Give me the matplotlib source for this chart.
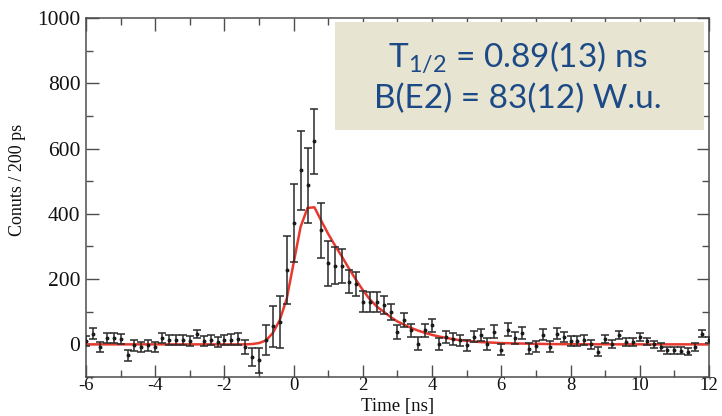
import matplotlib
matplotlib.use("Agg")
import matplotlib.pyplot as plt
from matplotlib.ticker import MultipleLocator
from matplotlib.patches import Rectangle

plt.rcParams["axes.unicode_minus"] = False

# ---------------- data ----------------
time_ns = [-6.0, -5.8, -5.6, -5.4, -5.2, -5.0, -4.8, -4.6, -4.4, -4.2,
           -4.0, -3.8, -3.6, -3.4, -3.2, -3.0, -2.8, -2.6, -2.4, -2.2,
           -2.0, -1.8, -1.6, -1.4, -1.2, -1.0, -0.8, -0.6, -0.4, -0.2,
           0.0, 0.2, 0.4, 0.6, 0.8, 1.0, 1.2, 1.4, 1.6, 1.8,
           2.0, 2.2, 2.4, 2.6, 2.8, 3.0, 3.2, 3.4, 3.6, 3.8,
           4.0, 4.2, 4.4, 4.6, 4.8, 5.0, 5.2, 5.4, 5.6, 5.8,
           6.0, 6.2, 6.4, 6.6, 6.8, 7.0, 7.2, 7.4, 7.6, 7.8,
           8.0, 8.2, 8.4, 8.6, 8.8, 9.0, 9.2, 9.4, 9.6, 9.8,
           10.0, 10.2, 10.4, 10.6, 10.8, 11.0, 11.2, 11.4, 11.6, 11.8,
           12.0]

counts = [10, 33, -8, 20, 20, 17, -34, -3, -8, -3,
          -8, 20, 14, 14, 14, 10, 33, 10, 14, 7,
          14, 14, 17, -8, -39, -49, 14, 55, 69, 228,
          371, 533, 487, 622, 349, 248, 241, 241, 192, 185,
          130, 130, 130, 120, 99, 38, 74, 43, 2, 43,
          58, 0, 23, 17, 12, -3, 23, 28, 2, 38,
          -16, 45, 20, 35, -13, -6, 30, -7, 33, 23,
          10, 10, 14, 0, -23, 17, 2, 28, 7, 7,
          23, 10, 0, -8, -18, -18, -20, -23, -8, 33,
          14]

count_err = [16, 16, 15, 15, 15, 16, 18, 16, 16, 16,
             16, 16, 15, 15, 15, 15, 12, 15, 15, 15,
             15, 17, 18, 20, 28, 38, 46, 64, 80, 104,
             120, 122, 115, 100, 84, 68, 56, 52, 35, 36,
             32, 30, 30, 27, 24, 22, 22, 20, 20, 20,
             19, 18, 18, 18, 17, 17, 17, 18, 18, 20,
             18, 20, 18, 18, 17, 16, 16, 16, 16, 15,
             15, 15, 15, 14, 14, 13, 12, 12, 12, 12,
             12, 11, 11, 11, 11, 11, 11, 11, 11, 10,
             10]

fit_curve = [0, 0, 0, 0, 0, 0, 0, 0, 0, 0,
             0, 0, 0, 0, 0, 0, 0, 0, 0, 0,
             0, 0, 0, 0, 1, 4, 12, 35, 75, 140,
             250, 360, 418, 420, 378, 338, 302, 268, 232, 198,
             166, 138, 116, 100, 84, 70, 60, 50, 42, 35,
             29, 24, 20, 16, 13, 11, 9, 7, 6, 5,
             4, 3.5, 3, 2.5, 2, 1.6, 1.3, 1.0, 0.8, 0.6,
             0.5, 0.4, 0.3, 0.3, 0.2, 0.2, 0.2, 0.1, 0.1, 0.1,
             0.1, 0, 0, 0, 0, 0, 0, 0, 0, 0,
             0]

x_ticks = [-6, -4, -2, 0, 2, 4, 6, 8, 10, 12]
y_ticks = [0, 200, 400, 600, 800, 1000]

line1 = r"T$_{\mathregular{1/2}}$ = 0.89(13) ns"
line2 = "B(E2) = 83(12) W.u."

# ---------------- figure ----------------
W, H = 722, 416
fig = plt.figure(figsize=(W / 100, H / 100), dpi=100)
L, R, T, B = 86, 709, 18, 377
ax = fig.add_axes([L / W, 1 - B / H, (R - L) / W, (B - T) / H])

ax.plot(time_ns, fit_curve, color="#E8392E", lw=1.8, zorder=2)
ax.errorbar(time_ns, counts, yerr=count_err, fmt="o", ms=1.8,
            color="#1a1a1a", ecolor="#2a2a2a", elinewidth=1.1,
            capsize=2.6, capthick=1.1, zorder=3)

ax.set_xlim(-6, 12)
ax.set_ylim(-100, 1000)
ax.set_xticks(x_ticks)
ax.set_yticks(y_ticks)
ax.xaxis.set_minor_locator(MultipleLocator(1))
ax.yaxis.set_minor_locator(MultipleLocator(100))

spine_col = "#4d4d4d"
for s in ax.spines.values():
    s.set_color(spine_col)
    s.set_linewidth(1.1)
ax.tick_params(which="both", direction="in", top=True, right=True,
               color=spine_col, width=1.0)
ax.tick_params(which="major", length=9)
ax.tick_params(which="minor", length=5)
ax.tick_params(axis="x", pad=0)
ax.tick_params(axis="y", pad=4)

serif = "Liberation Serif"
for lab in ax.get_xticklabels():
    lab.set_fontfamily(serif)
    lab.set_fontsize(13.5)
    lab.set_color("#111111")
for lab in ax.get_yticklabels():
    lab.set_fontfamily(serif)
    lab.set_fontsize(15.5)
    lab.set_color("#111111")

ax.set_xlabel("Time [ns]", fontfamily=serif, fontsize=13.5, color="#111111")
ax.xaxis.label.set_va("center")
ax.xaxis.set_label_coords(0.5, (B - 406) / (B - T))
ax.set_ylabel("Conuts / 200 ps", fontfamily=serif, fontsize=13, color="#111111")
ax.yaxis.label.set_va("center")
ax.yaxis.set_label_coords((18 - L) / (R - L), (B - 180) / (B - T))

# annotation box
bx0, bx1, by0, by1 = 335, 704, 130, 22
ax.add_patch(Rectangle(((bx0 - L) / (R - L), (B - by0) / (B - T)),
                       (bx1 - bx0) / (R - L), (by0 - by1) / (B - T),
                       transform=ax.transAxes, facecolor="#E8E4D2",
                       edgecolor="none", zorder=4, clip_on=False))
txt_col = "#1C4A86"
cx = (518 - L) / (R - L)
ax.text(cx, (B - 67) / (B - T), line1, transform=ax.transAxes,
        ha="center", va="baseline", fontfamily="Lato", fontsize=24,
        color=txt_col, zorder=5)
ax.text(cx, (B - 108) / (B - T), line2, transform=ax.transAxes,
        ha="center", va="baseline", fontfamily="Lato", fontsize=24,
        color=txt_col, zorder=5)

fig.savefig("out.png", dpi=100)
